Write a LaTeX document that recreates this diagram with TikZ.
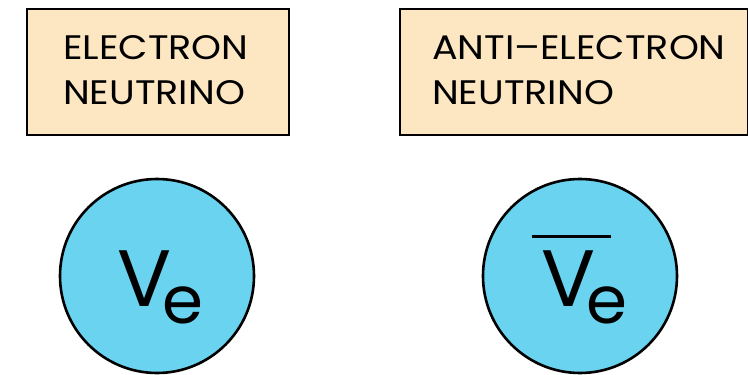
\documentclass[tikz,border=0pt]{standalone}
\usepackage{fontspec}
\setmainfont{Poppins}
\newfontfamily\widefont[FakeStretch=1.12]{Poppins}
\definecolor{boxfill}{HTML}{FDE6C2}
\definecolor{ballfill}{HTML}{6AD3F0}
% symbol with a lowered subscript
\newcommand*{\nusym}{V\kern-9pt\raisebox{-17pt}{\fontsize{66}{70}\selectfont e}}

\begin{document}
\begin{tikzpicture}[x=1pt,y=-1pt,
    labelbox/.style={draw=black,line width=1.8pt,fill=boxfill,anchor=north west,inner sep=0pt},
    particle/.style={circle,draw=black,line width=2.6pt,fill=ballfill,minimum size=194pt,inner sep=0pt},
    caption/.style={anchor=base west,inner sep=0pt,font=\widefont\fontsize{34}{40}\selectfont},
    symbol/.style={anchor=base west,inner sep=0pt,font=\fontsize{80}{90}\selectfont}]
  \useasboundingbox[fill=white] (0,0) rectangle (748,375);

  % name boxes
  \node[labelbox,minimum width=262pt,minimum height=126pt] (nubox) at (26,8) {};
  \node[caption] (nuone) at (63,59) {ELECTRON};
  \node[caption] (nutwo) at (63,104) {NEUTRINO};

  \node[labelbox,minimum width=348pt,minimum height=126pt] (antibox) at (399,8) {};
  \node[caption] (antione) at (432,59) {ANTI{\textendash}ELECTRON};
  \node[caption] (antitwo) at (432,104) {NEUTRINO};

  % the two particles
  \node[particle] (nu) at (157,276) {};
  \node[symbol] (nusym) at (117,306) {\nusym};

  \node[particle] (antinu) at (580,276) {};
  \node[symbol] (antisym) at (541,306) {\nusym};
  \draw[line width=3pt] (532,236) coordinate (barl) -- (611,236) coordinate (barr);
\end{tikzpicture}
\end{document}
